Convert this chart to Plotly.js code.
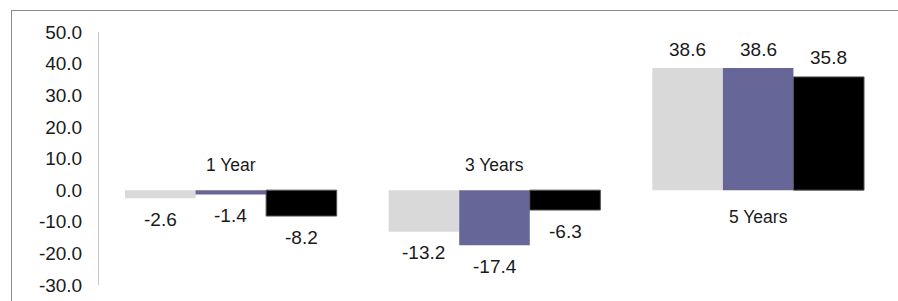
<!DOCTYPE html>
<html>
<head>
<meta charset="utf-8">
<script src="https://cdn.plot.ly/plotly-3.0.1.min.js"></script>
<style>
  html, body { margin: 0; padding: 0; width: 898px; height: 301px; overflow: hidden; background: #fff; }
  #frame { position: absolute; left: 11px; top: 10px; width: 1000px; height: 400px; border: 1px solid #8c8c8c; box-sizing: border-box; }
  #chart { position: absolute; left: 0; top: 0; width: 898px; height: 301px; }
</style>
</head>
<body>
<div id="frame"></div>
<div id="chart"></div>
<script>
// ---- data ----
const categories = ["1 Year", "3 Years", "5 Years"];
const seriesA = [-2.6, -13.2, 38.6];   // light gray
const seriesB = [-1.4, -17.4, 38.6];   // purple
const seriesC = [-8.2, -6.3, 35.8];    // black
const tickValues = [-30, -20, -10, 0, 10, 20, 30, 40, 50];
const tickLabels = ["-30.0", "-20.0", "-10.0", "0.0", "10.0", "20.0", "30.0", "40.0", "50.0"];

// ---- styles ----
const colors = ["#d9d9d9", "#666699", "#000000"];
const allSeries = [seriesA, seriesB, seriesC];
const FONT = "Liberation Sans, Arial, sans-serif";
const W = 898, H = 301;
const margin = { l: 99, r: 8, t: 32, b: 16 };
const bargap = 0.197;

const traces = allSeries.map((vals, i) => ({
  type: "bar",
  x: categories,
  y: vals,
  marker: { color: colors[i], line: { width: i === 2 ? 1 : 0, color: "#555555" } },
  hoverinfo: "skip",
  showlegend: false
}));

// pixel offsets for per-bar labels
const plotW = W - margin.l - margin.r;
const barW = plotW / categories.length * (1 - bargap) / allSeries.length;

const annotations = [];
allSeries.forEach((vals, i) => {
  vals.forEach((v, j) => {
    annotations.push({
      x: categories[j], y: v, xref: "x", yref: "y",
      text: v.toFixed(1), showarrow: false,
      xanchor: "center", yanchor: "middle",
      xshift: (i - 1) * barW,
      yshift: v < 0 ? -21 : 19,
      font: { family: FONT, size: 19, color: "#1a1a1a" }
    });
  });
});
categories.forEach((c, j) => {
  const neg = allSeries[0][j] < 0;
  annotations.push({
    x: c, y: 0, xref: "x", yref: "y",
    text: c, showarrow: false,
    xanchor: "center", yanchor: "middle",
    yshift: neg ? 25 : -27,
    font: { family: FONT, size: 17.5, color: "#1a1a1a" }
  });
});

const layout = {
  width: W, height: H,
  margin: margin,
  paper_bgcolor: "rgba(0,0,0,0)",
  plot_bgcolor: "rgba(0,0,0,0)",
  barmode: "group",
  bargap: bargap,
  bargroupgap: 0,
  font: { family: FONT, size: 17, color: "#1a1a1a" },
  xaxis: {
    type: "category",
    showticklabels: false,
    showline: false,
    showgrid: false,
    zeroline: false,
    ticks: ""
  },
  yaxis: {
    range: [-30, 50],
    tickmode: "array",
    tickvals: tickValues,
    ticktext: tickLabels,
    showline: true,
    linecolor: "#c8c8c8",
    linewidth: 1,
    showgrid: false,
    zeroline: false,
    ticks: "",
    ticklabelstandoff: 12,
    tickfont: { family: FONT, size: 19, color: "#1a1a1a" }
  },
  annotations: annotations
};

Plotly.newPlot("chart", traces, layout, { displayModeBar: false, staticPlot: true });
</script>
</body>
</html>
